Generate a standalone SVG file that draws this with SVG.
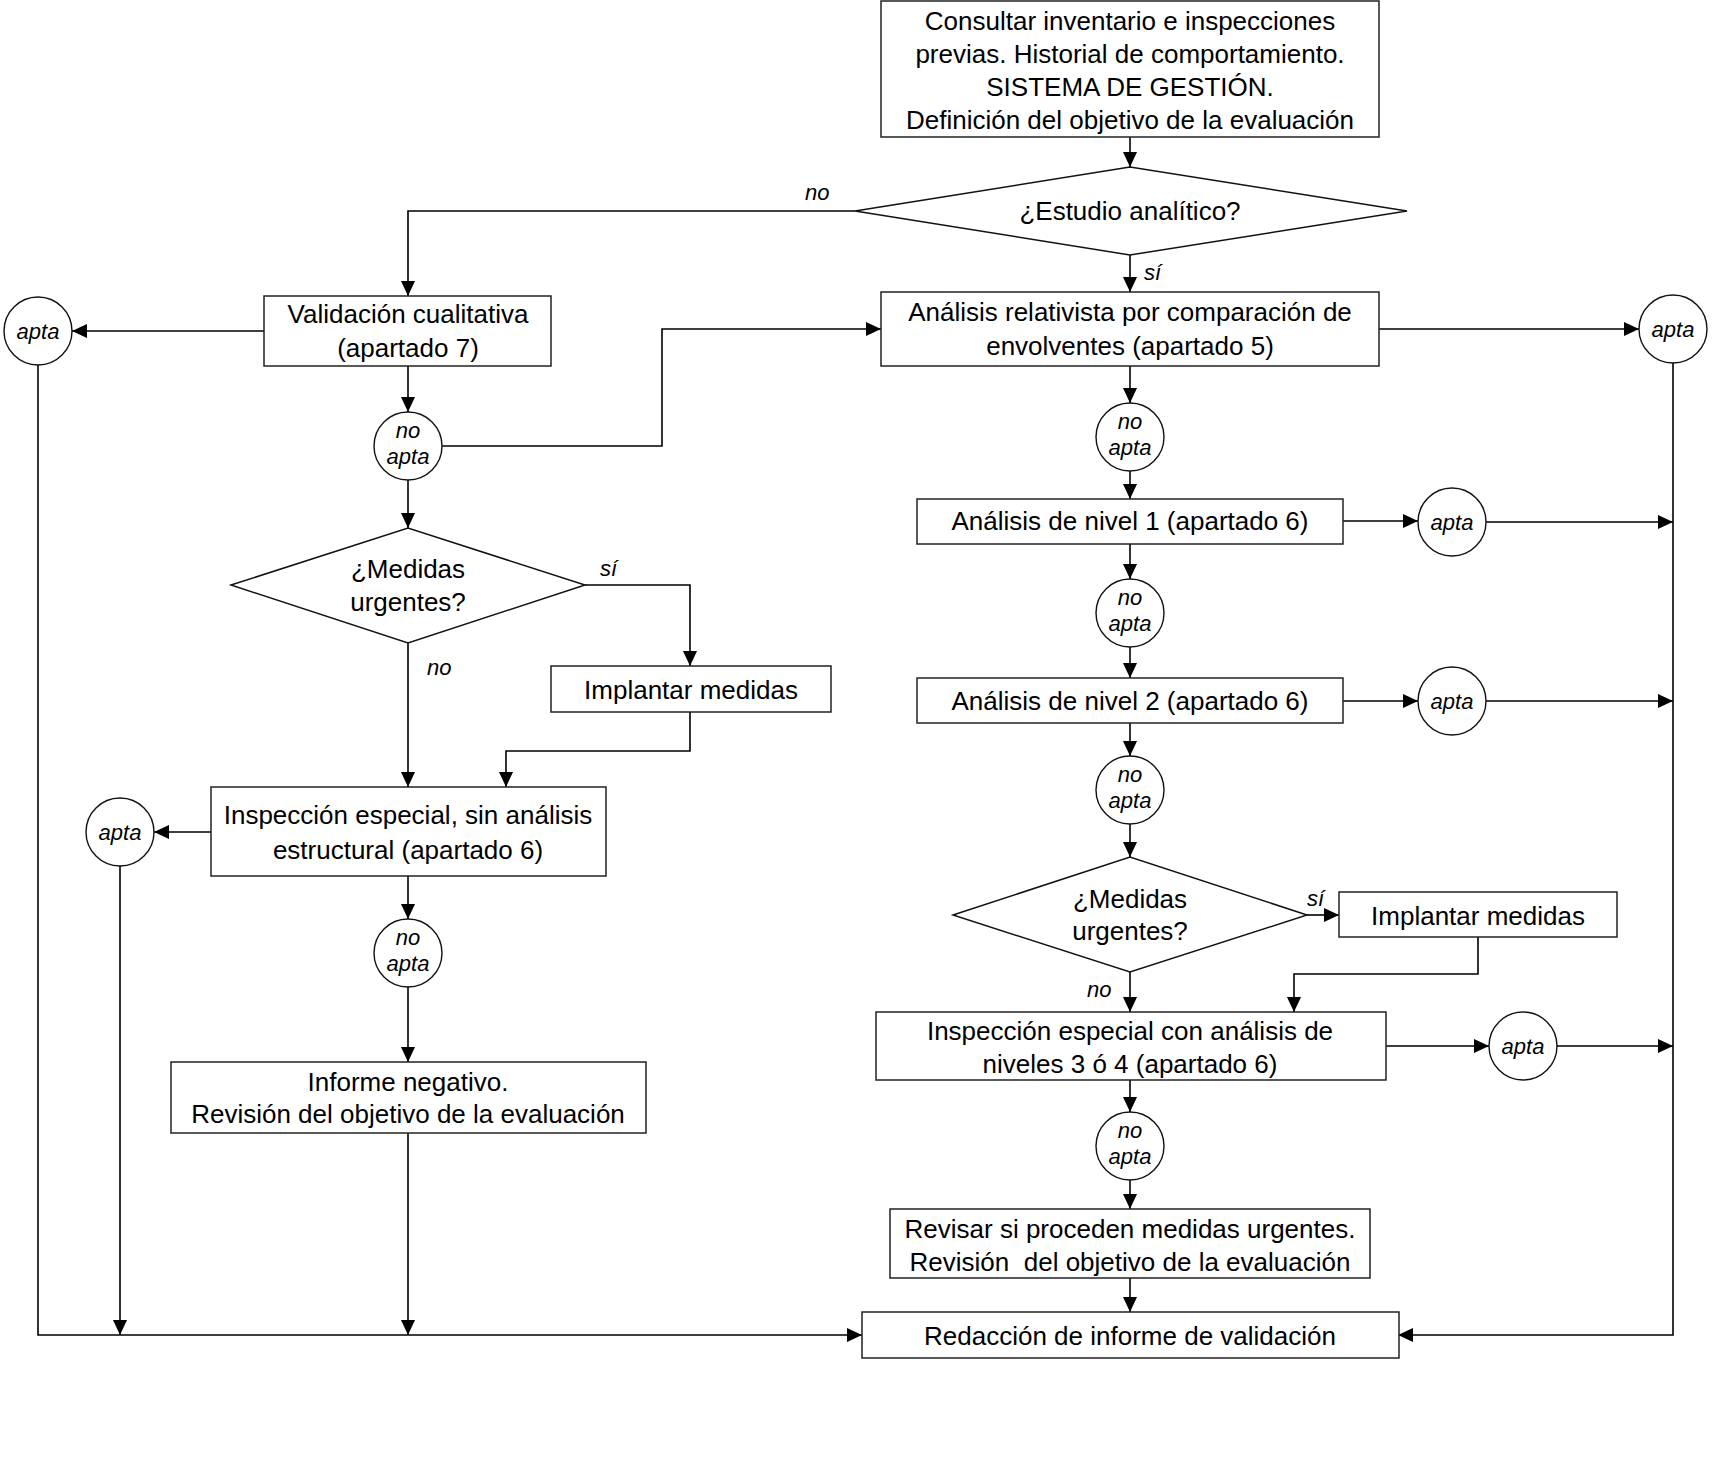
<svg xmlns="http://www.w3.org/2000/svg" width="1723" height="1462" viewBox="0 0 1723 1462">
<style>
.box{fill:#fff;stroke:#222;stroke-width:1.5}
.dia{fill:#fff;stroke:#111;stroke-width:1.5}
.circ{fill:#fff;stroke:#111;stroke-width:1.4}
.t{font-family:"Liberation Sans",Arial,sans-serif;font-size:26px;fill:#000;text-anchor:middle}
.i{font-family:"Liberation Sans",Arial,sans-serif;font-size:22px;font-style:italic;fill:#000;text-anchor:middle}
.lbl{font-family:"Liberation Sans",Arial,sans-serif;font-size:22px;font-style:italic;fill:#000}
.c{fill:none;stroke:#000;stroke-width:1.6}
.a{marker-end:url(#ah)}
</style>
<defs>
<marker id="ah" markerUnits="userSpaceOnUse" markerWidth="15" markerHeight="14" refX="15" refY="7" orient="auto">
<path d="M0,0 L15,7 L0,14 z" fill="#000"/>
</marker>
</defs>
<rect width="1723" height="1462" fill="#fff"/>
<g id="connectors">
<path class="c a" d="M1130,137 V167"/>
<path class="c a" d="M855,211 H408 V296"/>
<path class="c a" d="M1130,255 V292"/>
<path class="c a" d="M1379,329 H1639"/>
<path class="c a" d="M1673,363 V1335 H1398"/>
<path class="c a" d="M1130,366 V403"/>
<path class="c a" d="M1130,471 V499"/>
<path class="c a" d="M1342,521 H1418"/>
<path class="c a" d="M1486,522 H1673"/>
<path class="c a" d="M1130,544 V579"/>
<path class="c a" d="M1130,647 V678"/>
<path class="c a" d="M1342,701 H1418"/>
<path class="c a" d="M1486,701 H1673"/>
<path class="c a" d="M1130,723 V756"/>
<path class="c a" d="M1130,824 V857"/>
<path class="c a" d="M1307,915 H1339"/>
<path class="c a" d="M1478,937 V974 H1294 V1012"/>
<path class="c a" d="M1130,972 V1012"/>
<path class="c a" d="M1386,1046 H1489"/>
<path class="c a" d="M1557,1046 H1673"/>
<path class="c a" d="M1130,1080 V1112"/>
<path class="c a" d="M1130,1180 V1209"/>
<path class="c a" d="M1130,1278 V1312"/>
<path class="c a" d="M264,331 H72"/>
<path class="c a" d="M38,365 V1335 H862"/>
<path class="c a" d="M408,366 V412"/>
<path class="c a" d="M442,446 H662 V329 H881"/>
<path class="c a" d="M408,480 V528"/>
<path class="c a" d="M585,585 H690 V666"/>
<path class="c a" d="M408,643 V787"/>
<path class="c a" d="M690,712 V751 H506 V787"/>
<path class="c a" d="M211,832 H154"/>
<path class="c a" d="M120,866 V1335"/>
<path class="c a" d="M408,876 V919"/>
<path class="c a" d="M408,987 V1062"/>
<path class="c a" d="M408,1133 V1335"/>
<text class="lbl" x="805" y="200">no</text>
<text class="lbl" x="1144" y="280">sí</text>
<text class="lbl" x="1307" y="906">sí</text>
<text class="lbl" x="1087" y="997">no</text>
<text class="lbl" x="600" y="576">sí</text>
<text class="lbl" x="427" y="675">no</text>
</g>
<g id="n-top"><rect class="box" x="881" y="1" width="498" height="136"/>
<text class="t" x="1130" y="30">Consultar inventario e inspecciones</text>
<text class="t" x="1130" y="63">previas. Historial de comportamiento.</text>
<text class="t" x="1130" y="96">SISTEMA DE GESTIÓN.</text>
<text class="t" x="1130" y="129">Definición del objetivo de la evaluación</text></g>
<g id="n-estudio"><polygon class="dia" points="855,211 1130,167 1407,211 1130,255"/>
<text class="t" x="1130" y="220">¿Estudio analítico?</text></g>
<g id="n-relativista"><rect class="box" x="881" y="292" width="498" height="74"/>
<text class="t" x="1130" y="321">Análisis relativista por comparación de</text>
<text class="t" x="1130" y="355">envolventes (apartado 5)</text></g>
<g id="n-apta-r1"><circle class="circ" cx="1673" cy="329" r="34"/><text class="i" x="1673" y="337">apta</text></g>
<g id="n-noapta-a"><circle class="circ" cx="1130" cy="437" r="34"/><text class="i" x="1130" y="429">no</text><text class="i" x="1130" y="455">apta</text></g>
<g id="n-nivel1"><rect class="box" x="917" y="499" width="426" height="45"/>
<text class="t" x="1130" y="530">Análisis de nivel 1 (apartado 6)</text></g>
<g id="n-apta-n1"><circle class="circ" cx="1452" cy="522" r="34"/><text class="i" x="1452" y="530">apta</text></g>
<g id="n-noapta-b"><circle class="circ" cx="1130" cy="613" r="34"/><text class="i" x="1130" y="605">no</text><text class="i" x="1130" y="631">apta</text></g>
<g id="n-nivel2"><rect class="box" x="917" y="678" width="426" height="45"/>
<text class="t" x="1130" y="710">Análisis de nivel 2 (apartado 6)</text></g>
<g id="n-apta-n2"><circle class="circ" cx="1452" cy="701" r="34"/><text class="i" x="1452" y="709">apta</text></g>
<g id="n-noapta-c"><circle class="circ" cx="1130" cy="790" r="34"/><text class="i" x="1130" y="782">no</text><text class="i" x="1130" y="808">apta</text></g>
<g id="n-medidas2"><polygon class="dia" points="953,915 1130,857 1307,915 1130,972"/>
<text class="t" x="1130" y="908">¿Medidas</text><text class="t" x="1130" y="940">urgentes?</text></g>
<g id="n-implantar2"><rect class="box" x="1339" y="892" width="278" height="45"/>
<text class="t" x="1478" y="925">Implantar medidas</text></g>
<g id="n-insp34"><rect class="box" x="876" y="1012" width="510" height="68"/>
<text class="t" x="1130" y="1040">Inspección especial con análisis de</text>
<text class="t" x="1130" y="1073">niveles 3 ó 4 (apartado 6)</text></g>
<g id="n-apta-i34"><circle class="circ" cx="1523" cy="1046" r="34"/><text class="i" x="1523" y="1054">apta</text></g>
<g id="n-noapta-d"><circle class="circ" cx="1130" cy="1146" r="34"/><text class="i" x="1130" y="1138">no</text><text class="i" x="1130" y="1164">apta</text></g>
<g id="n-revisar"><rect class="box" x="890" y="1209" width="480" height="69"/>
<text class="t" x="1130" y="1238">Revisar si proceden medidas urgentes.</text>
<text class="t" x="1130" y="1271" style="white-space:pre">Revisión  del objetivo de la evaluación</text></g>
<g id="n-redaccion"><rect class="box" x="862" y="1312" width="537" height="46"/>
<text class="t" x="1130" y="1345">Redacción de informe de validación</text></g>
<g id="n-validacion"><rect class="box" x="264" y="296" width="287" height="70"/>
<text class="t" x="408" y="323">Validación cualitativa</text>
<text class="t" x="408" y="357">(apartado 7)</text></g>
<g id="n-apta-l1"><circle class="circ" cx="38" cy="331" r="34"/><text class="i" x="38" y="339">apta</text></g>
<g id="n-noapta-e"><circle class="circ" cx="408" cy="446" r="34"/><text class="i" x="408" y="438">no</text><text class="i" x="408" y="464">apta</text></g>
<g id="n-medidas1"><polygon class="dia" points="231,585 408,528 585,585 408,643"/>
<text class="t" x="408" y="578">¿Medidas</text><text class="t" x="408" y="611">urgentes?</text></g>
<g id="n-implantar1"><rect class="box" x="551" y="666" width="280" height="46"/>
<text class="t" x="691" y="699">Implantar medidas</text></g>
<g id="n-insp"><rect class="box" x="211" y="787" width="395" height="89"/>
<text class="t" x="408" y="824">Inspección especial, sin análisis</text>
<text class="t" x="408" y="859">estructural (apartado 6)</text></g>
<g id="n-apta-l2"><circle class="circ" cx="120" cy="832" r="34"/><text class="i" x="120" y="840">apta</text></g>
<g id="n-noapta-f"><circle class="circ" cx="408" cy="953" r="34"/><text class="i" x="408" y="945">no</text><text class="i" x="408" y="971">apta</text></g>
<g id="n-informe"><rect class="box" x="171" y="1062" width="475" height="71"/>
<text class="t" x="408" y="1091">Informe negativo.</text>
<text class="t" x="408" y="1123">Revisión del objetivo de la evaluación</text></g>
</svg>
